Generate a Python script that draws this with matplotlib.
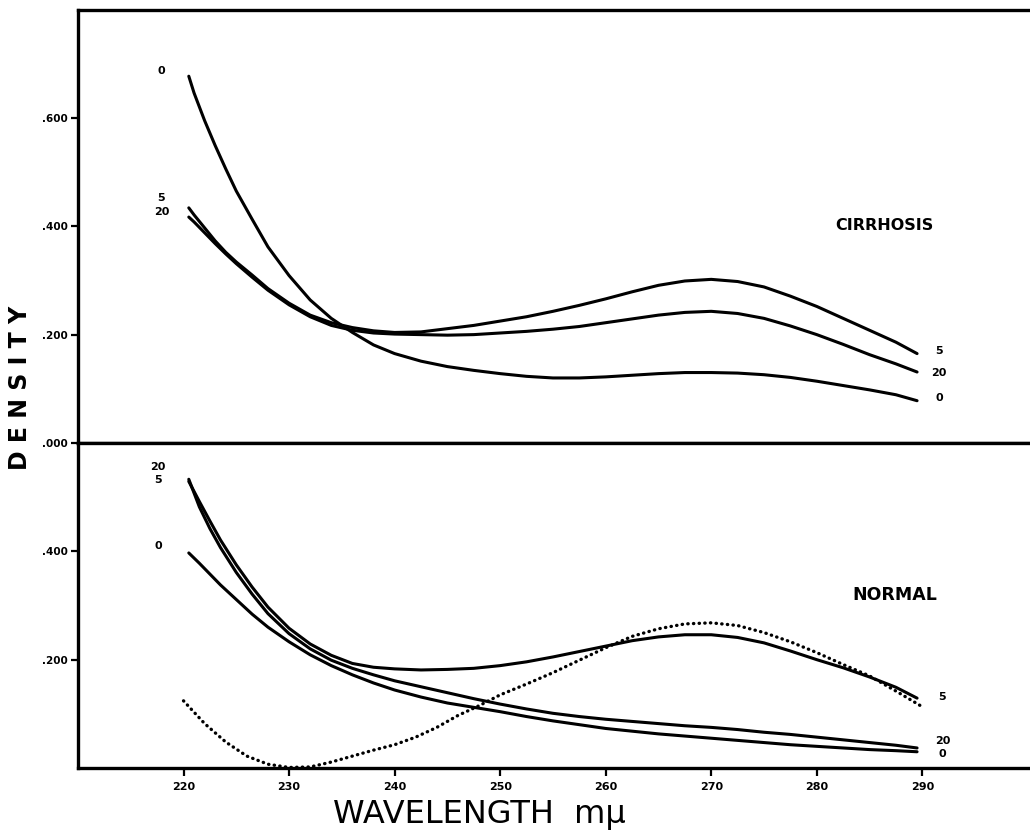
import numpy as np
import matplotlib
matplotlib.use('Agg')
import matplotlib.pyplot as plt

# cirrhosis panel, wavelength in m-mu
wl_cir = [220.5, 221, 222, 223, 224, 225, 226.5, 228, 230, 232, 234, 236, 238,
          240, 242.5, 245, 247.5, 250, 252.5, 255, 257.5, 260, 262.5, 265,
          267.5, 270, 272.5, 275, 277.5, 280, 282.5, 285, 287.5, 289.5]
cir_0 = [0.677, 0.646, 0.595, 0.549, 0.506, 0.465, 0.413, 0.362, 0.309, 0.264,
         0.230, 0.204, 0.181, 0.165, 0.151, 0.141, 0.134, 0.128, 0.123, 0.120,
         0.120, 0.122, 0.125, 0.128, 0.130, 0.130, 0.129, 0.126, 0.121, 0.114,
         0.106, 0.098, 0.089, 0.078]
cir_5 = [0.434, 0.421, 0.397, 0.373, 0.352, 0.334, 0.310, 0.285, 0.258, 0.236,
         0.222, 0.213, 0.207, 0.204, 0.205, 0.211, 0.217, 0.225, 0.233, 0.243,
         0.254, 0.266, 0.279, 0.291, 0.299, 0.302, 0.298, 0.288, 0.271, 0.252,
         0.230, 0.208, 0.186, 0.165]
cir_20 = [0.417, 0.408, 0.388, 0.368, 0.349, 0.331, 0.306, 0.282, 0.255, 0.233,
          0.217, 0.208, 0.203, 0.201, 0.200, 0.199, 0.200, 0.203, 0.206, 0.210,
          0.215, 0.222, 0.229, 0.236, 0.241, 0.243, 0.239, 0.230, 0.216, 0.200,
          0.182, 0.163, 0.146, 0.131]

# normal panel
wl_nor = [220.5, 221.5, 222.5, 223.5, 225, 226.5, 228, 230, 232, 234, 236, 238,
          240, 242.5, 245, 247.5, 250, 252.5, 255, 257.5, 260, 262.5, 265,
          267.5, 270, 272.5, 275, 277.5, 280, 282.5, 285, 287.5, 289.5]
nor_5 = [0.529, 0.492, 0.456, 0.421, 0.375, 0.334, 0.297, 0.258, 0.229, 0.208,
         0.193, 0.186, 0.183, 0.181, 0.182, 0.184, 0.189, 0.196, 0.205, 0.215,
         0.225, 0.235, 0.242, 0.246, 0.246, 0.241, 0.231, 0.216, 0.200, 0.185,
         0.168, 0.149, 0.129]
nor_20 = [0.533, 0.482, 0.442, 0.407, 0.361, 0.321, 0.285, 0.248, 0.220, 0.199,
          0.184, 0.172, 0.161, 0.150, 0.139, 0.128, 0.118, 0.109, 0.101, 0.095,
          0.090, 0.086, 0.082, 0.078, 0.075, 0.071, 0.066, 0.062, 0.057, 0.052,
          0.047, 0.042, 0.037]
nor_0 = [0.397, 0.378, 0.358, 0.338, 0.311, 0.284, 0.260, 0.233, 0.209, 0.189,
         0.172, 0.157, 0.144, 0.131, 0.120, 0.112, 0.104, 0.095, 0.087, 0.080,
         0.073, 0.068, 0.063, 0.059, 0.055, 0.051, 0.047, 0.043, 0.040, 0.037,
         0.034, 0.032, 0.030]

# dotted curve (normal panel)
wl_dot = [220, 222, 224, 226, 228, 230, 232, 234, 236, 238, 240, 242, 244, 246,
          248, 250, 252.5, 255, 257.5, 260, 262.5, 265, 267.5, 270, 272.5, 275,
          277.5, 280, 282.5, 285, 287.5, 290]
nor_dot = [0.124, 0.082, 0.048, 0.022, 0.007, 0.001, 0.002, 0.011, 0.022, 0.033,
           0.043, 0.057, 0.075, 0.097, 0.115, 0.135, 0.155, 0.176, 0.199, 0.222,
           0.243, 0.257, 0.266, 0.268, 0.263, 0.250, 0.233, 0.213, 0.191, 0.170,
           0.142, 0.113]

x_ticks = [220, 230, 240, 250, 260, 270, 280, 290]
top_yticks = [0.0, 0.2, 0.4, 0.6]
top_ylabels = ['.000', '.200', '.400', '.600']
bot_yticks = [0.2, 0.4]
bot_ylabels = ['.200', '.400']

# curve labels: (text, y) at left and right ends
cir_left = [('0', 0.687), ('5', 0.452), ('20', 0.427)]
cir_right = [('5', 0.170), ('20', 0.130), ('0', 0.083)]
nor_left = [('20', 0.556), ('5', 0.532), ('0', 0.409)]
nor_right = [('5', 0.132), ('20', 0.050), ('0', 0.026)]

fig = plt.figure(figsize=(10.3, 8.4), dpi=100)
gs = fig.add_gridspec(2, 1, height_ratios=[0.8, 0.6], hspace=0,
                      left=0.0757, right=1.0, top=0.9886, bottom=0.0857)
ax1 = fig.add_subplot(gs[0])
ax2 = fig.add_subplot(gs[1], sharex=ax1)

lw = 2.2
for y in (cir_0, cir_5, cir_20):
    ax1.plot(wl_cir, y, color='black', lw=lw, solid_capstyle='round',
             solid_joinstyle='round')
for y in (nor_0, nor_5, nor_20):
    ax2.plot(wl_nor, y, color='black', lw=lw, solid_capstyle='round',
             solid_joinstyle='round')
ax2.plot(wl_dot, nor_dot, color='black', lw=2.4, linestyle=(0, (0.1, 1.6)),
         dash_capstyle='round')

ax1.set_xlim(210, 300.2)
ax1.set_ylim(0, 0.8)
ax2.set_ylim(0, 0.6)

for ax in (ax1, ax2):
    ax.spines['right'].set_visible(False)
    for s in ('left', 'top', 'bottom'):
        ax.spines[s].set_linewidth(2.4)
    ax.tick_params(axis='y', direction='out', length=5, width=1.6, pad=2,
                   labelsize=7.5)

ax1.set_yticks(top_yticks)
ax1.set_yticklabels(top_ylabels, fontweight='bold')
ax2.set_yticks(bot_yticks)
ax2.set_yticklabels(bot_ylabels, fontweight='bold')
ax1.tick_params(axis='x', bottom=False, labelbottom=False)
ax2.set_xticks(x_ticks)
ax2.set_xticklabels([str(t) for t in x_ticks], fontweight='bold')
ax2.tick_params(axis='x', direction='out', length=6, width=1.6, pad=4,
                labelsize=8)

for txt, y in cir_left:
    ax1.text(217.9, y, txt, fontsize=8, fontweight='bold', ha='center', va='center')
for txt, y in cir_right:
    ax1.text(291.6, y, txt, fontsize=8, fontweight='bold', ha='center', va='center')
for txt, y in nor_left:
    ax2.text(217.6, y, txt, fontsize=8, fontweight='bold', ha='center', va='center')
for txt, y in nor_right:
    ax2.text(291.9, y, txt, fontsize=8, fontweight='bold', ha='center', va='center')

ax1.text(286.4, 0.402, 'CIRRHOSIS', fontsize=11.5, fontweight='bold',
         ha='center', va='center')
ax2.text(287.4, 0.319, 'NORMAL', fontsize=12.5, fontweight='bold',
         ha='center', va='center')

fig.text(0.019, 0.538, 'D E N S I T Y', rotation=90, fontsize=17,
         fontweight='bold', ha='center', va='center')
fig.text(0.465, 0.030, 'WAVELENGTH  m\u03bc', fontsize=23, ha='center',
         va='center')

fig.savefig('out.png', dpi=100)
